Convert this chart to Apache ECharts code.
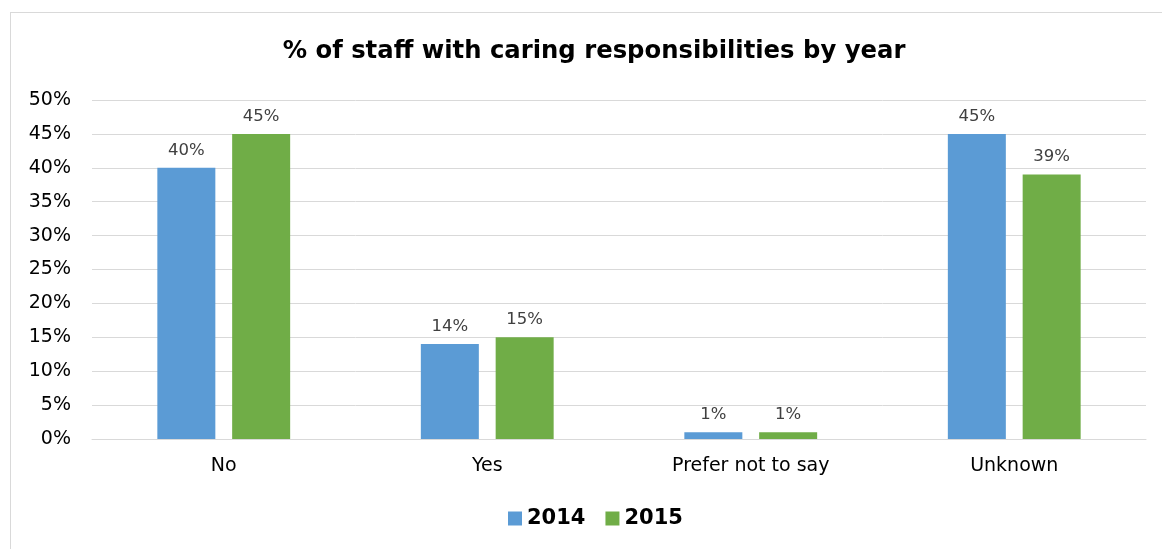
<!DOCTYPE html>
<html>
<head>
<meta charset="utf-8">
<script src="https://cdn.jsdelivr.net/npm/echarts@6/dist/echarts.min.js"></script>
<style>
  html, body { margin: 0; padding: 0; background: #fff; }
  #frame { position: absolute; left: 10px; top: 12px; width: 1200px; height: 600px;
           border: 1px solid #d9d9d9; box-sizing: border-box; }
  #chart { position: absolute; left: 0; top: 0; width: 1162px; height: 549px; }
</style>
</head>
<body>
<div id="frame"></div>
<div id="chart"></div>
<script>
const categories = ['No', 'Yes', 'Prefer not to say', 'Unknown'];
const values2014 = [40, 14, 1, 45];
const values2015 = [45, 15, 1, 39];
const yTicks = { min: 0, max: 50, interval: 5 };

const font = '"DejaVu Sans", Verdana, sans-serif';
const chart = echarts.init(document.getElementById('chart'), null, { renderer: 'canvas' });

const labelStyle = {
  show: true,
  position: 'top',
  distance: 9,
  formatter: p => p.value + '%',
  color: '#404040',
  fontFamily: font,
  fontSize: 16.5
};

chart.setOption({
  backgroundColor: 'transparent',
  animation: false,
  title: {
    text: '% of staff with caring responsibilities by year',
    left: 589,
    textAlign: 'center',
    top: 35,
    textStyle: { fontFamily: font, fontSize: 24.3, fontWeight: 'bold', color: '#000' }
  },
  legend: {
    data: ['2014', '2015'],
    left: 503,
    top: 503,
    itemWidth: 14,
    itemHeight: 14,
    itemGap: 20,
    icon: 'rect',
    textStyle: { fontFamily: font, fontSize: 21, fontWeight: 'bold', color: '#000', padding: [0, 0, 0, 0] }
  },
  grid: { left: 92, right: 16, top: 100, bottom: 110 },
  xAxis: {
    type: 'category',
    data: categories,
    axisLine: { show: true, lineStyle: { color: '#d9d9d9' } },
    axisTick: { show: false },
    axisLabel: { fontFamily: font, fontSize: 19, color: '#000', margin: 18 }
  },
  yAxis: {
    type: 'value',
    min: yTicks.min,
    max: yTicks.max,
    interval: yTicks.interval,
    axisLine: { show: false },
    axisTick: { show: false },
    splitLine: { lineStyle: { color: '#d9d9d9', width: 1 } },
    axisLabel: { fontFamily: font, fontSize: 19, color: '#000', margin: 21, formatter: v => v + '%' }
  },
  series: [
    {
      name: '2014', type: 'bar', data: values2014,
      barWidth: 58, barGap: '29%',
      itemStyle: { color: '#5b9bd5' },
      label: labelStyle
    },
    {
      name: '2015', type: 'bar', data: values2015,
      barWidth: 58,
      itemStyle: { color: '#70ad47' },
      label: labelStyle
    }
  ]
});
</script>
</body>
</html>
